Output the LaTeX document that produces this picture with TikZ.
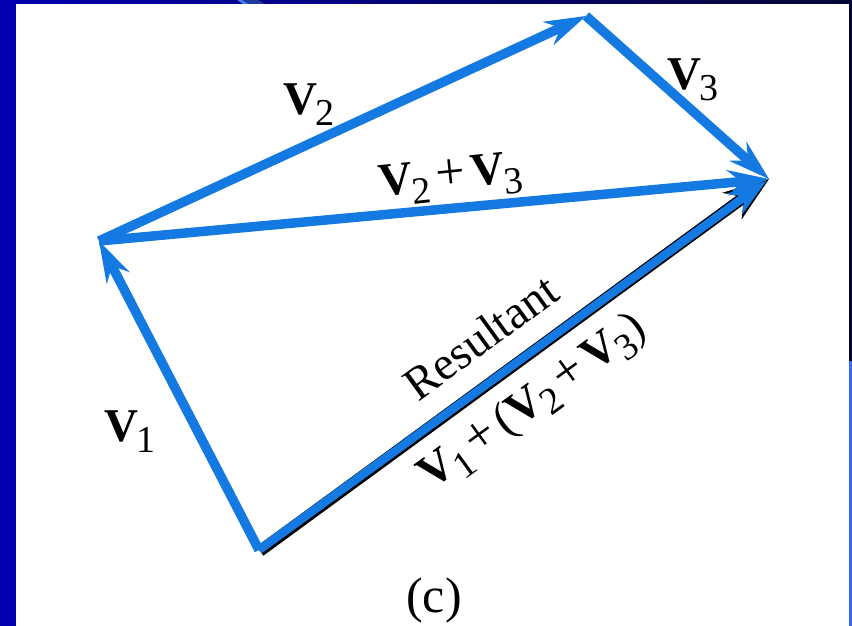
\documentclass[tikz,border=0pt]{standalone}
\usepackage{fontspec}
\setmainfont{Liberation Serif}
\usetikzlibrary{arrows.meta,calc}
\definecolor{vblue}{RGB}{20,122,226}
\definecolor{bgL}{RGB}{0,0,176}
\definecolor{bgR}{RGB}{6,6,52}
\definecolor{edgeB}{RGB}{58,102,250}
\definecolor{swA}{RGB}{70,130,240}
\definecolor{swB}{RGB}{30,60,160}
\newcommand\Vs[1]{\textbf{V}\kern-1.5pt\raisebox{-11pt}{\fontsize{38}{40}\selectfont #1}}
\newcommand\pl{\kern6pt{\fontsize{52}{52}\selectfont +}\kern6pt}
\begin{document}
\begin{tikzpicture}[x=1pt,y=-1pt,
  vec/.style={draw=vblue, line width=9.5pt, -{Stealth[length=42pt,width=26pt,inset=14pt,line width=0pt]}},
  lab/.style={font=\fontsize{47}{50}\selectfont, inner sep=0pt, anchor=base west},
  rlab/.style={font=\fontsize{47}{50}\selectfont, inner sep=0pt, anchor=base},
]
\useasboundingbox (0,0) rectangle (852,626);
% frame
\fill[left color=bgL, right color=bgR] (0,0) rectangle (852,626);
\fill[edgeB] (848.5,361) rectangle (852,626);
\fill[swB] (242,0) -- (258,0) -- (266,4.5) -- (249,4.5) -- cycle;
\fill[swA] (237,0) -- (242,0) -- (249,4.5) -- (244,4.5) -- cycle;
\fill[white] (16,4.5) rectangle (848.5,626);
% points
\coordinate (O) at (259,550);
\coordinate (A) at (99,241);
\coordinate (B) at (586,16);
\coordinate (D) at (769,179);
\coordinate (Os) at (260,551);
% resultant (outlined)
\draw[black, line width=11.5pt, -{Stealth[length=46pt,width=33pt,inset=15pt,line width=0pt]}] (Os) -- (D);
\draw[vblue, line width=8.5pt, shorten >=3pt, -{Stealth[length=40pt,width=26pt,inset=13pt,line width=0pt]}] (O) -- (D);
% vectors
\draw[vec] (O) -- (A);
\draw[vec] (A) -- (B);
\draw[vec] (B) -- (D);
\draw[vec] (A) -- (D);
% labels
\node[lab] (l2) at (283,114) {\Vs{2}};
\node[lab] (l3) at (667,89) {\Vs{3}};
\node[lab] (l1) at (104,441) {\Vs{1}};
\node[rlab, rotate=6] (l23) at (452,189) {\Vs{2}\pl\Vs{3}};
\node[rlab, rotate=36.03] (res) at (490,350) {Resultant};
\node[rlab, rotate=36.03] (sum) at (540,412) {\Vs{1}\pl(\Vs{2}\pl\Vs{3})};
\node[font=\fontsize{50}{50}\selectfont, inner sep=0pt, anchor=base] (c) at (434,612) {(c)};
\end{tikzpicture}
\end{document}
